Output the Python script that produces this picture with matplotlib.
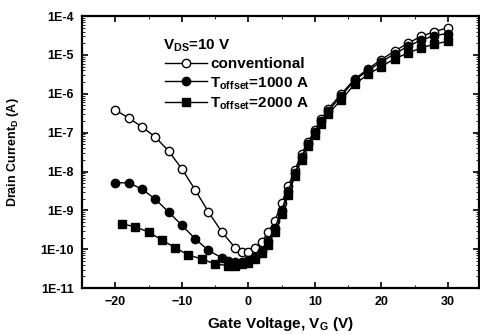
import matplotlib.pyplot as plt
import numpy as np

plt.rcParams['font.family'] = ['Liberation Sans', 'DejaVu Sans']
plt.rcParams['font.weight'] = 'bold'
plt.rcParams['mathtext.default'] = 'bf'

# gate voltage (V) and log10 of drain current (A)
v_conv = [-20, -18, -16, -14, -12, -10, -8, -6, -4, -2, -1, 0, 1, 2, 3, 4, 5, 6, 7, 8,
          9, 10, 11, 12, 14, 16, 18, 20, 22, 24, 26, 28, 30]
log_conv = [-6.42, -6.62, -6.85, -7.11, -7.47, -7.93, -8.47, -9.04, -9.55, -9.96, -10.07,
            -10.07, -9.98, -9.82, -9.55, -9.27, -8.82, -8.38, -7.96, -7.55, -7.24, -6.93,
            -6.65, -6.39, -6.0, -5.62, -5.36, -5.12, -4.9, -4.7, -4.52, -4.4, -4.3]

v_1000 = [-20, -18, -16, -14, -12, -10, -8, -6, -4, -3, -2, -1, 0, 1, 2, 3, 4, 5, 6, 7,
          8, 9, 10, 11, 12, 14, 16, 18, 20, 22, 24, 26, 28, 30]
log_1000 = [-8.29, -8.29, -8.45, -8.71, -9.04, -9.38, -9.73, -10.03, -10.22, -10.3, -10.33,
            -10.33, -10.28, -10.2, -10.05, -9.8, -9.45, -9.0, -8.5, -8.05, -7.62, -7.28,
            -6.98, -6.7, -6.45, -6.05, -5.65, -5.4, -5.18, -4.97, -4.78, -4.62, -4.5, -4.45]

v_2000 = [-19, -17, -15, -13, -11, -9, -7, -5, -3, -2, -1, 0, 1, 2, 3, 4, 5, 6, 7, 8,
          9, 10, 11, 12, 14, 16, 18, 20, 22, 24, 26, 28, 30]
log_2000 = [-9.35, -9.42, -9.56, -9.76, -9.96, -10.15, -10.25, -10.38, -10.42, -10.42,
            -10.38, -10.35, -10.25, -10.1, -9.88, -9.55, -9.1, -8.6, -8.12, -7.7, -7.35,
            -7.05, -6.78, -6.52, -6.15, -5.75, -5.5, -5.3, -5.1, -4.95, -4.82, -4.72, -4.65]

ytick_labels = ['1E-11', '1E-10', '1E-9', '1E-8', '1E-7', '1E-6', '1E-5', '1E-4']

fig = plt.figure(figsize=(4.8, 3.35), dpi=100)
ax = fig.add_axes([0.171, 0.140, 0.827, 0.812])

ax.plot(v_conv, 10 ** np.array(log_conv), '-o', color='black', lw=1,
        mfc='white', mec='black', ms=6, mew=1, label='conventional')
ax.plot(v_1000, 10 ** np.array(log_1000), '-o', color='black', lw=1,
        ms=6, label=r'T$_{\mathregular{offset}}$=1000 A')
ax.plot(v_2000, 10 ** np.array(log_2000), '-s', color='black', lw=1,
        ms=5.5, label=r'T$_{\mathregular{offset}}$=2000 A')

ax.set_yscale('log')
ax.set_ylim(1e-11, 1e-4)
ax.set_xlim(-25, 34.7)
ax.set_yticks([10.0 ** k for k in range(-11, -3)])
ax.set_yticklabels(ytick_labels)
ax.set_xticks([-20, -10, 0, 10, 20, 30])
ax.set_xticks(np.arange(-25, 35, 5), minor=True)
ax.tick_params(which='both', direction='in', top=True, right=True, labelsize=9, pad=6)
ax.tick_params(which='major', length=4, width=1.2)
ax.tick_params(which='minor', length=2.5)
for s in ax.spines.values():
    s.set_linewidth(1.6)

ax.set_xlabel(r'Gate Voltage, V$_{\mathregular{G}}$ (V)', fontsize=11, fontweight='bold',
              labelpad=5)
ax.set_ylabel(r'Drain Current$_{\mathregular{D}}$ (A)', fontsize=9, fontweight='bold',
              labelpad=14)

fig.text(163 / 480, 1 - 49 / 335, r'V$_{\mathregular{DS}}$=10 V', fontsize=11,
         fontweight='bold', va='baseline')
ax.legend(loc='upper left', bbox_to_anchor=(165 / 480, 1 - 57 / 335),
          bbox_transform=fig.transFigure, frameon=False,
          prop={'size': 11, 'weight': 'bold'}, handlelength=2.75, handletextpad=0.2,
          labelspacing=0.25, borderaxespad=0, borderpad=0)

fig.savefig('out.png', dpi=100)
